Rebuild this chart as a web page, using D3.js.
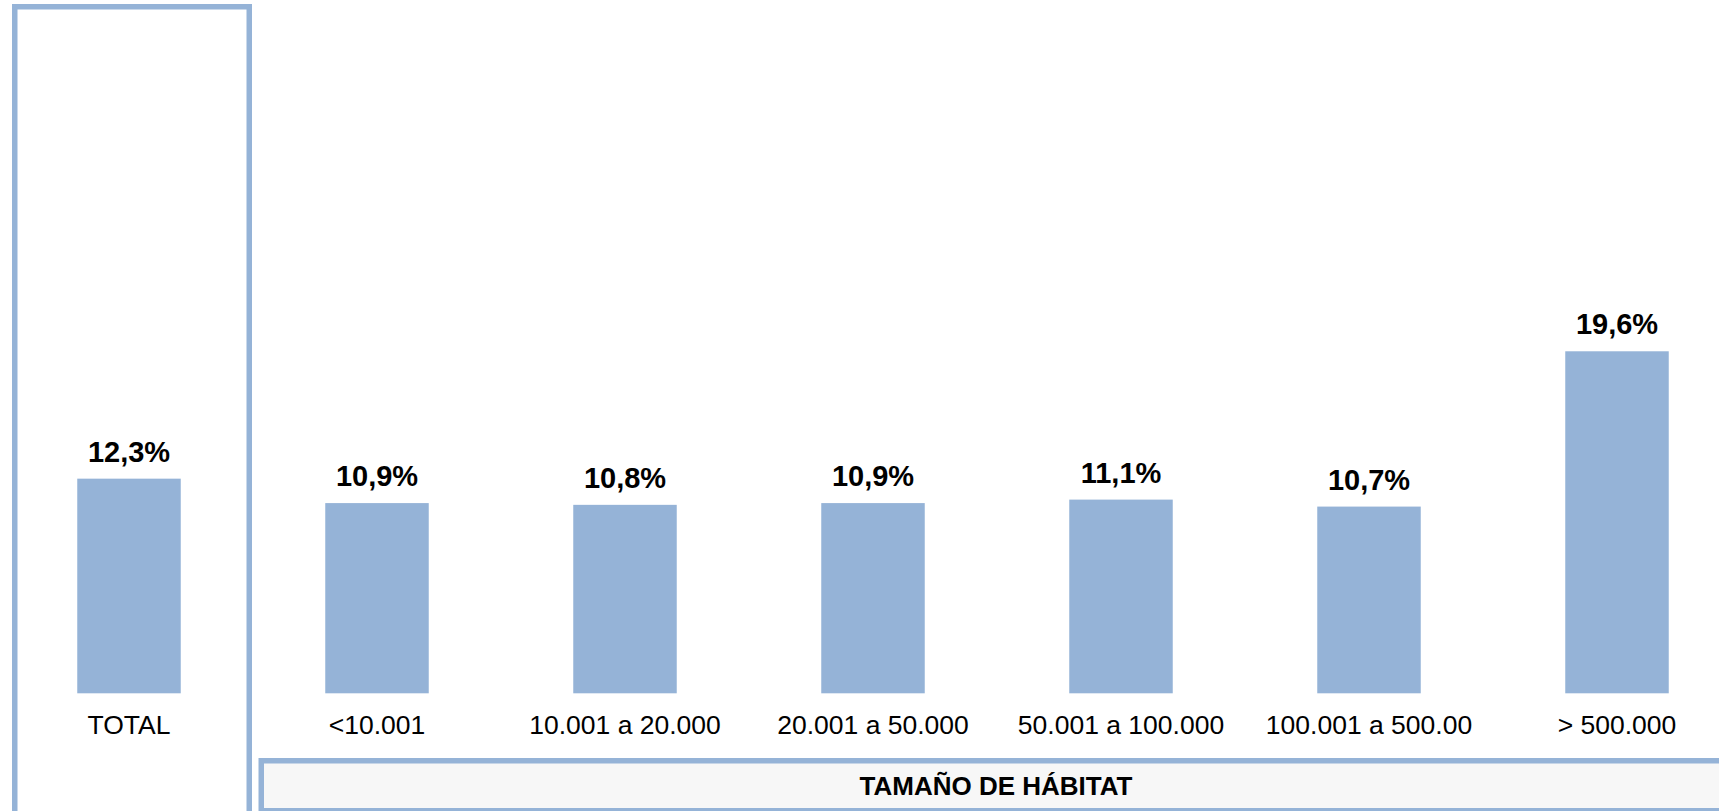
<!DOCTYPE html>
<html>
<head>
<meta charset="utf-8">
<script src="https://cdn.jsdelivr.net/npm/d3@7"></script>
<style>
  html, body { margin: 0; padding: 0; background: #ffffff; overflow: hidden; }
  svg { display: block; font-family: "Liberation Sans", Arial, sans-serif; }
</style>
</head>
<body>
<svg id="chart" width="1719" height="811"></svg>
<script>
const categories = ["TOTAL", "<10.001", "10.001 a 20.000", "20.001 a 50.000", "50.001 a 100.000", "100.001 a 500.00", "> 500.000"];
const values = [12.3, 10.9, 10.8, 10.9, 11.1, 10.7, 19.6];
const groupTitle = "TAMAÑO DE HÁBITAT";

const svg = d3.select("#chart");
const blue = "#95b3d7";

const locale = d3.formatLocale({decimal: ",", thousands: ".", grouping: [3], currency: ["", "€"]});
const fmt = v => locale.format(".1f")(v) + "%";

const x = d3.scaleBand()
  .domain(categories)
  .range([5, 1741])
  .paddingInner(0.5827)
  .paddingOuter(0.29135);

const y = d3.scaleLinear()
  .domain([0, 20])
  .range([693.3, 693.3 - 349]);

// TOTAL frame
svg.append("rect")
  .attr("x", 14.75).attr("y", 6.75)
  .attr("width", 234.5).attr("height", 900)
  .attr("fill", "none")
  .attr("stroke", blue)
  .attr("stroke-width", 5.5);

// Group title box
svg.append("rect")
  .attr("x", 261.25).attr("y", 760.75)
  .attr("width", 1470).attr("height", 50)
  .attr("fill", "#f7f7f7")
  .attr("stroke", blue)
  .attr("stroke-width", 5.5);

svg.append("text")
  .attr("x", 996)
  .attr("y", 795)
  .attr("text-anchor", "middle")
  .attr("font-size", 26)
  .attr("font-weight", "bold")
  .attr("fill", "#000")
  .text(groupTitle);

// Bars
svg.selectAll("rect.bar")
  .data(values)
  .join("rect")
  .attr("class", "bar")
  .attr("x", (d, i) => x(categories[i]))
  .attr("width", x.bandwidth())
  .attr("y", d => y(d))
  .attr("height", d => y(0) - y(d))
  .attr("fill", blue);

// Value labels
svg.selectAll("text.val")
  .data(values)
  .join("text")
  .attr("class", "val")
  .attr("x", (d, i) => x(categories[i]) + x.bandwidth() / 2)
  .attr("y", d => y(d) - 17)
  .attr("text-anchor", "middle")
  .attr("font-size", 29)
  .attr("font-weight", "bold")
  .attr("fill", "#000")
  .text(d => fmt(d));

// Category axis
const axis = svg.append("g")
  .attr("transform", `translate(0, ${y(0)})`)
  .call(d3.axisBottom(x).tickSize(0).tickPadding(0));
axis.select(".domain").remove();
axis.selectAll("text")
  .attr("font-size", 26.5)
  .attr("font-family", "\"Liberation Sans\", Arial, sans-serif")
  .attr("fill", "#000")
  .attr("dy", null)
  .attr("y", 41);
</script>
</body>
</html>
